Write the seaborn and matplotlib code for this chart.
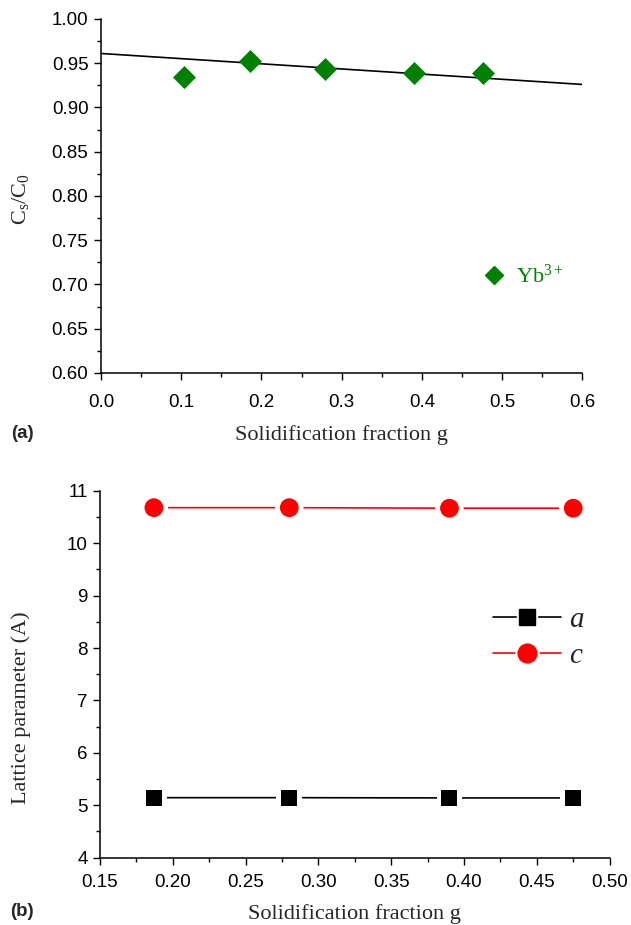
import matplotlib
matplotlib.use("Agg")
import matplotlib.pyplot as plt
import seaborn as sns
import pandas as pd
from matplotlib.lines import Line2D
from matplotlib.legend_handler import HandlerTuple
from matplotlib.ticker import MultipleLocator

# ---------------- data ----------------
# panel (a)
g_a = [0.104, 0.186, 0.279, 0.390, 0.476]
cs_c0 = [0.934, 0.952, 0.943, 0.939, 0.939]
fit_g = [0.0, 0.6]
fit_cs = [0.961, 0.926]
series_a_label = "Yb$^{3+}$"

# panel (b)
g_b = [0.187, 0.280, 0.390, 0.475]
lat_a = [5.145, 5.145, 5.14, 5.14]
lat_c = [10.68, 10.68, 10.67, 10.67]
lat_labels = ["a", "c"]

xticks_a = [0.0, 0.1, 0.2, 0.3, 0.4, 0.5, 0.6]
yticks_a = [0.60, 0.65, 0.70, 0.75, 0.80, 0.85, 0.90, 0.95, 1.00]
xticks_b = [0.15, 0.20, 0.25, 0.30, 0.35, 0.40, 0.45, 0.50]
yticks_b = [4, 5, 6, 7, 8, 9, 10, 11]

# ---------------- style ----------------
sns.set_style("ticks")
plt.rcParams["font.family"] = ["Liberation Sans", "DejaVu Sans"]
plt.rcParams["mathtext.fontset"] = "custom"
plt.rcParams["mathtext.rm"] = "Liberation Serif"
plt.rcParams["mathtext.it"] = "Liberation Serif:italic"

GREEN = "#008000"
RED = "#ff0000"
SERIF = ["Liberation Serif", "DejaVu Serif"]

fig = plt.figure(figsize=(6.31, 9.25), dpi=100)
ax1 = fig.add_axes([0.160, 0.5968, 0.763, 0.3827])
ax2 = fig.add_axes([0.1585, 0.0728, 0.8076, 0.3965])

def style_axes(ax, xpad, ypad):
    for s in ["top", "right"]:
        ax.spines[s].set_visible(False)
    for s in ["left", "bottom"]:
        ax.spines[s].set_linewidth(1.1)
        ax.spines[s].set_color("black")
    ax.tick_params(which="major", direction="out", length=5, width=1.0,
                   labelsize=13.5, colors="black")
    ax.tick_params(which="minor", direction="out", length=2.7, width=1.0,
                   colors="black")
    ax.tick_params(axis="x", which="major", pad=xpad)
    ax.tick_params(axis="y", which="major", pad=ypad)
    ax.grid(False)

# ---------------- panel (a) ----------------
df_a = pd.DataFrame({"g": g_a, "cs": cs_c0})
df_fit = pd.DataFrame({"g": fit_g, "cs": fit_cs})
sns.lineplot(data=df_fit, x="g", y="cs", ax=ax1, color="black", linewidth=1.2,
             zorder=2)
sns.scatterplot(data=df_a, x="g", y="cs", ax=ax1, marker="D", s=125,
                color=GREEN, edgecolor=GREEN, linewidth=0.5, zorder=3)
ax1.set_xlim(0.0, 0.6)
ax1.set_ylim(0.60, 1.00)
ax1.set_xticks(xticks_a)
ax1.set_xticklabels([f"{v:.1f}" for v in xticks_a])
ax1.set_yticks(yticks_a)
ax1.set_yticklabels([f"{v:.2f}" for v in yticks_a])
ax1.xaxis.set_minor_locator(MultipleLocator(0.05))
ax1.yaxis.set_minor_locator(MultipleLocator(0.025))
style_axes(ax1, xpad=10.5, ypad=4)
ax1.set_xlabel("Solidification fraction g", fontsize=16, family=SERIF)
ax1.set_ylabel("C$_\\mathregular{s}$/C$_\\mathregular{0}$", fontsize=16,
               family=SERIF)
ax1.xaxis.set_label_coords(0.5, -0.147)
ax1.yaxis.set_label_coords(-0.145, 0.49)

h_yb = Line2D([], [], marker="D", linestyle="none", markersize=9,
              color=GREEN, markeredgecolor=GREEN)
leg1 = ax1.legend([h_yb], [series_a_label], loc="center left",
                  bbox_to_anchor=(0.793, 0.274), frameon=False, borderpad=0,
                  borderaxespad=0, handlelength=1.0, handletextpad=0.5,
                  numpoints=1, prop={"family": SERIF, "size": 16})
for t in leg1.get_texts():
    t.set_color(GREEN)

# ---------------- panel (b) ----------------
df_b = pd.DataFrame({"g": g_b * 2, "value": lat_a + lat_c,
                     "param": [lat_labels[0]] * len(g_b) + [lat_labels[1]] * len(g_b)})
pal = {lat_labels[0]: "black", lat_labels[1]: RED}
mk = {lat_labels[0]: "s", lat_labels[1]: "o"}
ms_core = {lat_labels[0]: 11.5, lat_labels[1]: 13.5}

sns.lineplot(data=df_b, x="g", y="value", hue="param", palette=pal, ax=ax2,
             linewidth=1.2, legend=False, zorder=1)
for p in lat_labels:
    sub = df_b[df_b["param"] == p]
    sns.scatterplot(data=sub, x="g", y="value", ax=ax2, marker=mk[p],
                    s=(ms_core[p] + 7) ** 2, color="white",
                    edgecolor="none", zorder=2, legend=False)
    sns.scatterplot(data=sub, x="g", y="value", ax=ax2, marker=mk[p],
                    s=ms_core[p] ** 2, color=pal[p], edgecolor="none",
                    zorder=3, legend=False)

ax2.set_xlim(0.15, 0.50)
ax2.set_ylim(4, 11)
ax2.set_xticks(xticks_b)
ax2.set_xticklabels([f"{v:.2f}" for v in xticks_b])
ax2.set_yticks(yticks_b)
ax2.set_yticklabels([str(v) for v in yticks_b])
ax2.xaxis.set_minor_locator(MultipleLocator(0.025))
ax2.yaxis.set_minor_locator(MultipleLocator(0.5))
style_axes(ax2, xpad=7, ypad=4)
ax2.set_xlabel("Solidification fraction g", fontsize=16, family=SERIF)
ax2.set_ylabel("Lattice parameter (A)", fontsize=16, family=SERIF)
ax2.xaxis.set_label_coords(0.5, -0.127)
ax2.yaxis.set_label_coords(-0.135, 0.41)

handles = []
for p in lat_labels:
    line = Line2D([], [], color=pal[p], linewidth=1.2)
    halo = Line2D([], [], marker=mk[p], linestyle="none",
                  markersize=ms_core[p] + 3, color="white",
                  markeredgecolor="white")
    core = Line2D([], [], marker=mk[p], linestyle="none",
                  markersize=ms_core[p], color=pal[p], markeredgecolor=pal[p])
    handles.append((line, halo, core))
leg2 = ax2.legend(handles, [f"${l}$" for l in lat_labels], loc="center left",
                  bbox_to_anchor=(0.771, 0.600), frameon=False, borderpad=0,
                  borderaxespad=0, handlelength=2.35, handletextpad=0.25,
                  labelspacing=0.33, numpoints=1,
                  handler_map={tuple: HandlerTuple(ndivide=1, pad=0)},
                  prop={"family": SERIF, "size": 21})

# panel tags
fig.text(22 / 631, 1 - 433 / 925, "(a)", fontsize=13.5, fontweight="bold",
         ha="center", va="center")
fig.text(22 / 631, 1 - 912 / 925, "(b)", fontsize=13.5, fontweight="bold",
         ha="center", va="center")

fig.savefig("out.png", dpi=100)
